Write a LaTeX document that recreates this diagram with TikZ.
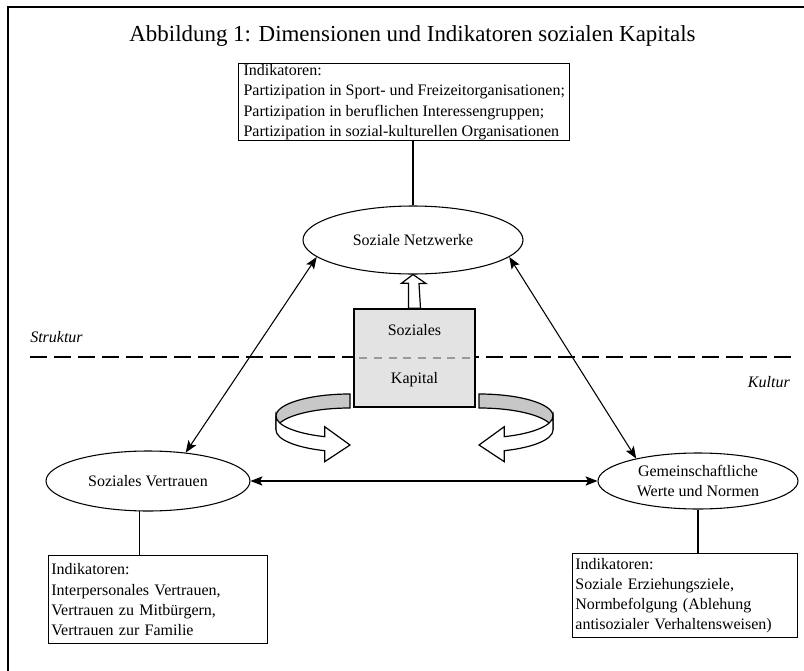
\documentclass[tikz,border=0pt]{standalone}
\usepackage{fontspec}
\setmainfont{Liberation Serif}
\usetikzlibrary{shapes.geometric,arrows.meta,calc}
\begin{document}
\begin{tikzpicture}[x=0.75pt,y=-0.75pt,
  ind/.style={draw,line width=1.1pt,anchor=north west,align=left,inner xsep=2pt,inner ysep=0.5pt,font=\fontsize{12}{15.2}\selectfont},
  ell/.style={draw,ellipse,line width=0.8pt,inner sep=0pt,align=center,font=\fontsize{12}{15}\selectfont},
  lbl/.style={inner sep=0pt,font=\fontsize{12}{15}\selectfont},
  conn/.style={line width=0.8pt},
  dbl/.style={line width=0.8pt,{Stealth[length=9pt,width=7pt,inset=2pt]}-{Stealth[length=9pt,width=7pt,inset=2pt]}},
  divider/.style={line width=1.5pt,dash pattern=on 12.75pt off 5.25pt},
  ribbonback/.style={draw,line width=0.9pt,fill=black!22},
  ribbonfront/.style={draw,line width=0.9pt,fill=white},
  kapbox/.style={draw,line width=1.1pt,fill=black!11,minimum width=90.75pt,minimum height=73.5pt,inner sep=0pt},
  hollow/.style={draw,line width=0.9pt,fill=white}
]
\useasboundingbox (0,0) rectangle (804,671);

% frame
\coordinate (fr1) at (8,671);
\coordinate (fr2) at (8,7);
\coordinate (fr3) at (804,7);
\draw[line width=1.3pt] (fr1) -- (fr2) -- (fr3);

% title
\node[inner sep=0pt,font=\fontsize{17.2}{20}\selectfont] (title) at (412.5,36) {Abbildung 1: Dimensionen und Indikatoren sozialen Kapitals};

% dashed divider
\coordinate (dl) at (30,357);
\coordinate (dr) at (796,357);
\draw[divider] (dl) -- (dr);

% labels Struktur / Kultur
\node[lbl,anchor=west,font=\fontsize{12}{15}\selectfont\itshape] (struktur) at (30,337) {Struktur};
\node[lbl,anchor=east,font=\fontsize{12}{15}\selectfont\itshape] (kultur) at (790,382) {Kultur};

% curved ribbon arrows (left)
\draw[ribbonback] (350,394) arc[start angle=270, end angle=180, x radius=74, y radius=22]
  -- (276,430) arc[start angle=180, end angle=270, x radius=74, y radius=22] -- cycle;
\draw[ribbonfront] (276,416) arc[start angle=180, end angle=110, x radius=74, y radius=22]
  -- (324.7,426.7) -- (350,445) -- (324.7,461.7) -- (324.7,450.7)
  arc[start angle=110, end angle=180, x radius=74, y radius=22] -- cycle;
% right
\draw[ribbonback] (479,394) arc[start angle=270, end angle=360, x radius=74, y radius=22]
  -- (553,430) arc[start angle=0, end angle=-90, x radius=74, y radius=22] -- cycle;
\draw[ribbonfront] (553,416) arc[start angle=0, end angle=70, x radius=74, y radius=22]
  -- (504.3,426.7) -- (479,445) -- (504.3,461.7) -- (504.3,450.7)
  arc[start angle=70, end angle=0, x radius=74, y radius=22] -- cycle;

% central box
\node[kapbox] (kap) at (414.5,358) {};
\draw[black!40,line width=0.9pt,dash pattern=on 6pt off 5pt] ($(kap.west)+(6,0)$) -- ($(kap.east)+(-6,0)$);
\node[lbl] (kap1) at (414.5,330) {Soziales};
\node[lbl] (kap2) at (414.5,380) {Kapital};

% ellipses
\node[ell,minimum width=165pt,minimum height=51pt] (net) at (413,240) {Soziale Netzwerke};
\node[ell,minimum width=153pt,minimum height=45pt] (sv) at (148,481) {Soziales Vertrauen};
\node[ell,minimum width=150pt,minimum height=42pt] (gw) at (698,481) {Gemeinschaftliche\\Werte und Normen};

% hollow up arrow from box to network
\draw[hollow] ($(kap.north)+(-6,0)$) -- ++(0,-25) -- ++(-7,0) -- (net.south) -- ++(13,9) -- ++(-7,0) -- ($(kap.north)+(6,0)$) -- cycle;

% indicator boxes
\node[ind,minimum width=248.25pt,minimum height=56.25pt] (topbox) at (238,63) {Indikatoren:\\Partizipation in Sport- und Freizeitorganisationen;\\Partizipation in beruflichen Interessengruppen;\\Partizipation in sozial-kulturellen Organisationen};
\node[ind,text width=160pt,minimum height=66pt] (bl) at (48,555) {Indikatoren:\\Interpersonales Vertrauen,\\Vertrauen zu Mitbürgern,\\Vertrauen zur Familie};
\node[ind,text width=164.5pt,minimum height=63pt] (br) at (572,553) {Indikatoren:\\Soziale Erziehungsziele,\\Normbefolgung (Ablehung\\antisozialer Verhaltensweisen)};

% connectors
\draw[conn] (net.north) -- (net.north |- topbox.south);
\draw[conn] (sv.255) -- (sv.255 |- bl.north);
\draw[conn] (gw.south) -- (gw.south |- br.north);
\draw[dbl] (net.190) -- (sv.37);
\draw[dbl] (net.350) -- (gw.160);
\draw[dbl] (sv.east) -- (gw.west);
\end{tikzpicture}
\end{document}
